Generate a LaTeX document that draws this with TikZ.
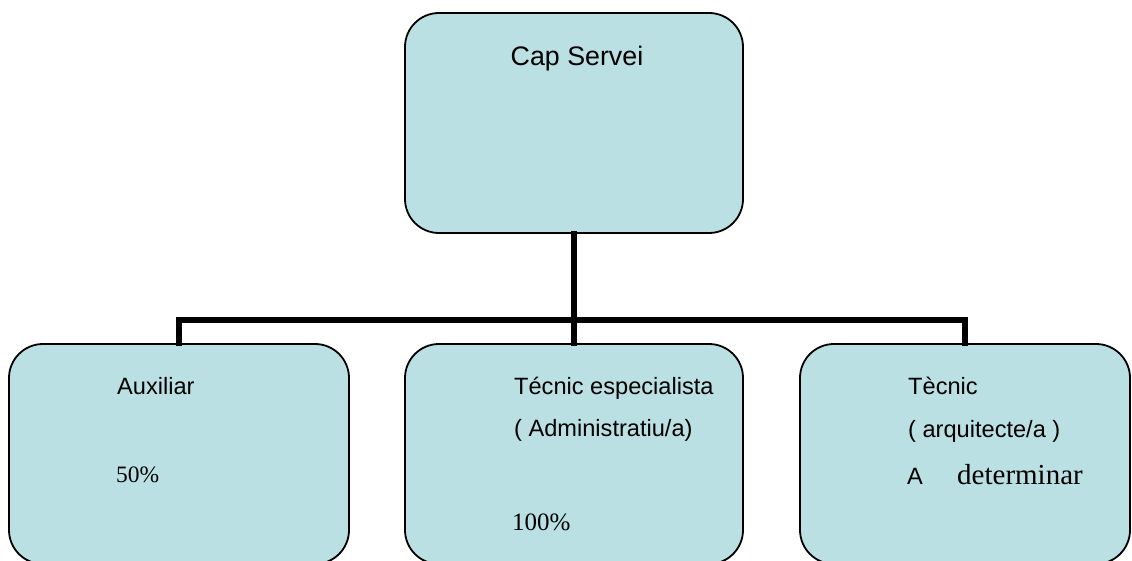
\documentclass[tikz,border=0pt]{standalone}
\usepackage{fontspec}
\newfontfamily\sansf{Liberation Sans}
\newfontfamily\seriff{Liberation Serif}
\definecolor{boxfill}{RGB}{187,224,227}
\tikzset{
  x=1pt, y=-1pt,
  orgbox/.style={draw=black, line width=1.8pt, fill=boxfill, rounded corners=34pt, inner sep=0pt},
  conn/.style={draw=black, line width=5.5pt, line join=miter, line cap=rect},
  stxt/.style={anchor=base west, inner sep=0pt, font=\sansf\fontsize{23.6}{23.6}\selectfont},
  rtxt/.style={anchor=base west, inner sep=0pt, font=\seriff\fontsize{23.5}{23.5}\selectfont},
}
\begin{document}
\begin{tikzpicture}
\useasboundingbox (0,0) rectangle (1132,561);
% boxes
\node[orgbox, minimum width=338pt, minimum height=220pt] (top) at (574,123) {};
\node[orgbox, minimum width=340pt, minimum height=220pt] (aux) at (179,454) {};
\node[orgbox, minimum width=338pt, minimum height=220pt] (tec) at (574,454) {};
\node[orgbox, minimum width=330pt, minimum height=220pt] (arq) at (965,454) {};
% connectors
\coordinate (j) at (574,320);
\draw[conn] (top.south) -- (j);
\draw[conn] (aux.north) |- (j) -| (arq.north);
\draw[conn] (j) -- (tec.north);
% texts
\node[anchor=base, inner sep=0pt, font=\sansf\fontsize{26.8}{26.8}\selectfont] (t0) at (577,66) {Cap Servei};
\node[stxt] (t1) at (117,394) {Auxiliar};
\node[rtxt] (t2) at (116,482) {50\%};
\node[stxt] (t3) at (514,394) {Técnic especialista};
\node[stxt] (t4) at (514,436) {( Administratiu/a)};
\node[rtxt, font=\seriff\fontsize{25}{25}\selectfont] (t5) at (512,530) {100\%};
\node[stxt] (t6) at (908,394) {Tècnic};
\node[stxt] (t7) at (908,437) {( arquitecte/a )};
\node[stxt] (t8) at (907,484) {A};
\node[rtxt, font=\seriff\fontsize{29}{29}\selectfont] (t9) at (957,484) {determinar};
\end{tikzpicture}
\end{document}
